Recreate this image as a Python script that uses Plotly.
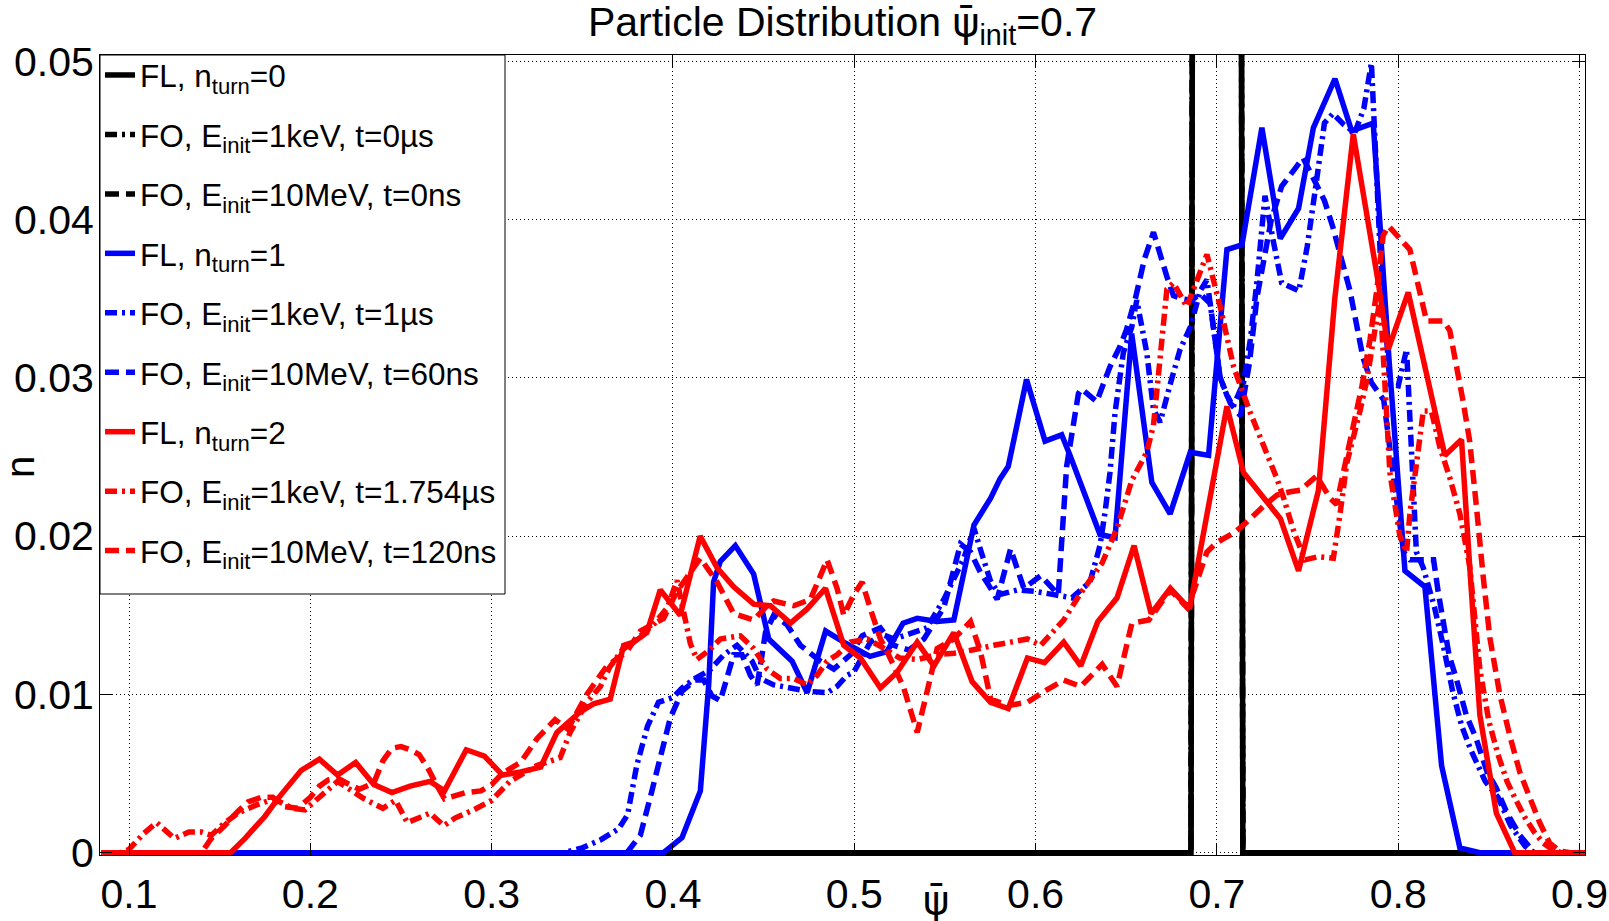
import plotly.graph_objects as go

# ---------------- data ----------------
# FL / FO at t=0 : every particle in the psi=0.7 bin (normalised n=1)
psi_t0 = [0.085, 0.6857, 0.7000, 0.7143, 0.905]
n_t0 = [0, 0, 1.0, 0, 0]

# FL, n_turn = 1  (blue solid)
psi_fl1 = [0.085, 0.3948, 0.405, 0.4151, 0.4197, 0.4224, 0.4261, 0.4344, 0.4445, 0.4482, 0.4528,
           0.4657, 0.474, 0.4842, 0.4942, 0.5087, 0.518, 0.5269, 0.5347, 0.5457, 0.5549, 0.566,
           0.5752, 0.5803, 0.5849, 0.595, 0.6052, 0.6144, 0.619, 0.6355, 0.6438, 0.653, 0.6641,
           0.6742, 0.6853, 0.6954, 0.7055, 0.7138, 0.7248, 0.7349, 0.745, 0.7532, 0.7651, 0.7743,
           0.7862, 0.795, 0.8037, 0.8147, 0.8239, 0.834, 0.845, 0.905]
n_fl1 = [0, 0, 0.00095, 0.0039, 0.0106, 0.0171, 0.0184, 0.0194, 0.0176, 0.0158, 0.0135,
         0.0121, 0.0101, 0.0140, 0.0133, 0.0124, 0.0127, 0.0145, 0.0148, 0.0146, 0.0147, 0.0207,
         0.0224, 0.0236, 0.0244, 0.0299, 0.0260, 0.0264, 0.0251, 0.0201, 0.0199, 0.0328, 0.0234,
         0.0214, 0.0253, 0.0251, 0.0381, 0.0384, 0.0458, 0.0388, 0.0407, 0.0458, 0.0489, 0.0456,
         0.0461, 0.0310, 0.0178, 0.0168, 0.0055, 0.0003, 0, 0]

# FO, E_init = 1 keV, t = 1 us  (blue dash-dot)
psi_fo1k_1 = [0.085, 0.34, 0.35, 0.36, 0.37, 0.375, 0.38, 0.386, 0.392, 0.40, 0.405, 0.412, 0.42,
              0.428, 0.4353, 0.4436, 0.4482, 0.4556, 0.4648, 0.474, 0.485, 0.4905, 0.496, 0.4997,
              0.5089, 0.515, 0.522, 0.53, 0.54, 0.5494, 0.5604, 0.566, 0.57, 0.575, 0.58, 0.59,
              0.60, 0.61, 0.62, 0.63, 0.6355, 0.6383, 0.641, 0.6438, 0.6484, 0.653, 0.6558, 0.6613,
              0.665, 0.6687, 0.674, 0.6797, 0.6853, 0.6908, 0.6945, 0.7018, 0.7055, 0.709, 0.7147,
              0.7184, 0.722, 0.7265, 0.731, 0.7357, 0.7452, 0.7498, 0.7545, 0.7593, 0.764, 0.77,
              0.776, 0.781, 0.7852, 0.79, 0.7954, 0.80, 0.8046, 0.81, 0.8138, 0.82, 0.825, 0.83,
              0.835, 0.84, 0.848, 0.855, 0.862, 0.87, 0.875, 0.905]
n_fo1k_1 = [0, 0, 0.0003, 0.0008, 0.0015, 0.0024, 0.0055, 0.0080, 0.0095, 0.0098, 0.0104, 0.0110,
            0.0115, 0.0125, 0.0131, 0.0121, 0.0110, 0.0106, 0.0104, 0.0102, 0.0101, 0.0105, 0.0112,
            0.0114, 0.0133, 0.0138, 0.0135, 0.0138, 0.0142, 0.0160, 0.0186, 0.0205, 0.0190, 0.0172,
            0.0163, 0.0166, 0.0165, 0.0163, 0.0161, 0.0171, 0.0194, 0.0215, 0.0240, 0.0278, 0.0316,
            0.0332, 0.0349, 0.0316, 0.0280, 0.0272, 0.0295, 0.0318, 0.0332, 0.0355, 0.0362, 0.0300,
            0.0289, 0.0282, 0.0297, 0.0324, 0.0360, 0.0415, 0.0387, 0.0360, 0.0355, 0.0383, 0.0421,
            0.0461, 0.0467, 0.0460, 0.0455, 0.0470, 0.0499, 0.0380, 0.0296, 0.0295, 0.0318, 0.0190,
            0.0180, 0.0155, 0.0130, 0.0102, 0.0080, 0.0065, 0.0045, 0.0035, 0.0017, 0.0004, 0, 0]

# FO, E_init = 10 MeV, t = 60 ns  (blue dashed)
psi_fo10m_60 = [0.085, 0.3746, 0.382, 0.3875, 0.393, 0.3985, 0.405, 0.4123, 0.417, 0.4215, 0.4261,
                0.4335, 0.4381, 0.4427, 0.4464, 0.4482, 0.451, 0.4556, 0.4629, 0.4703, 0.4813,
                0.4887, 0.4979, 0.5043, 0.5144, 0.5218, 0.53, 0.5384, 0.5494, 0.5586, 0.5641,
                0.5696, 0.5752, 0.5788, 0.5862, 0.5935, 0.6028, 0.6125, 0.6171, 0.6236, 0.6254,
                0.6337, 0.641, 0.6466, 0.65, 0.655, 0.66, 0.665, 0.6724, 0.676, 0.6807, 0.686,
                0.6908, 0.6963, 0.7018, 0.7074, 0.713, 0.718, 0.7221, 0.73, 0.7357, 0.7475, 0.7593,
                0.764, 0.7734, 0.7805, 0.7852, 0.792, 0.7954, 0.80, 0.803, 0.8065, 0.815, 0.8195,
                0.822, 0.825, 0.828, 0.832, 0.8375, 0.843, 0.849, 0.854, 0.86, 0.867, 0.875, 0.905]
n_fo10m_60 = [0, 0, 0.0011, 0.0035, 0.0060, 0.0085, 0.0102, 0.0109, 0.0109, 0.0099, 0.0096,
              0.0125, 0.0125, 0.0112, 0.0106, 0.0118, 0.0139, 0.0150, 0.0144, 0.0131, 0.0121,
              0.0116, 0.0125, 0.0137, 0.0142, 0.0131, 0.0128, 0.0135, 0.0155, 0.0195, 0.0190,
              0.0177, 0.0167, 0.0160, 0.0192, 0.0167, 0.0175, 0.0163, 0.0244, 0.0290, 0.0293,
              0.0285, 0.0307, 0.0320, 0.0330, 0.0350, 0.0375, 0.0392, 0.0364, 0.0352, 0.0350, 0.0349,
              0.0353, 0.0347, 0.0300, 0.0284, 0.0276, 0.0310, 0.0351, 0.0400, 0.0421, 0.0439, 0.0412,
              0.0395, 0.0355, 0.0313, 0.0297, 0.0286, 0.0255, 0.0215, 0.0190, 0.0185, 0.0185, 0.0185,
              0.0165, 0.0145, 0.0125, 0.0110, 0.0087, 0.0072, 0.0051, 0.0041, 0.0025, 0.0011, 0, 0]

# FL, n_turn = 2  (red solid)
psi_fl2 = [0.085, 0.156, 0.164, 0.175, 0.182, 0.195, 0.205, 0.215, 0.225, 0.235, 0.245, 0.255,
           0.266, 0.274, 0.286, 0.296, 0.306, 0.316, 0.327, 0.336, 0.3489, 0.3562, 0.3654, 0.3728,
           0.3783, 0.3856, 0.393, 0.404, 0.415, 0.4243, 0.4335, 0.4445, 0.4537, 0.4648, 0.474,
           0.4841, 0.4942, 0.5034, 0.5144, 0.5236, 0.5347, 0.5439, 0.5549, 0.565, 0.5752, 0.5849,
           0.5955, 0.6049, 0.6155, 0.6249, 0.6343, 0.6449, 0.6543, 0.6637, 0.6743, 0.6849, 0.7055,
           0.7147, 0.735, 0.745, 0.756, 0.765, 0.7752, 0.789, 0.7945, 0.8055, 0.8257, 0.8349,
           0.8394, 0.845, 0.8541, 0.8642, 0.905]
n_fl2 = [0, 0, 0.0009, 0.0023, 0.0034, 0.0052, 0.0059, 0.0049, 0.0057, 0.0043, 0.0038, 0.0042,
         0.0045, 0.0039, 0.0065, 0.0061, 0.0049, 0.0051, 0.0054, 0.0076, 0.0089, 0.0094, 0.0097,
         0.0131, 0.0133, 0.0139, 0.0166, 0.0150, 0.0200, 0.0180, 0.0168, 0.0157, 0.0156, 0.0145,
         0.0154, 0.0167, 0.0131, 0.0123, 0.0104, 0.0114, 0.0133, 0.0118, 0.0139, 0.0108, 0.0095,
         0.0091, 0.0123, 0.0120, 0.0133, 0.0118, 0.0146, 0.0161, 0.0194, 0.0151, 0.0167, 0.0154,
         0.0282, 0.0240, 0.0211, 0.0178, 0.0229, 0.0350, 0.0454, 0.0360, 0.0318, 0.0354, 0.0251,
         0.0261, 0.0181, 0.0087, 0.0025, 0, 0]

# FO, E_init = 1 keV, t = 1.754 us  (red dash-dot)
psi_fo1k_2 = [0.085, 0.095, 0.10, 0.108, 0.1152, 0.125, 0.133, 0.14, 0.1454, 0.152, 0.16, 0.17,
              0.18, 0.19, 0.197, 0.205, 0.215, 0.2297, 0.24, 0.247, 0.2535, 0.26, 0.266, 0.2736,
              0.28, 0.29, 0.30, 0.31, 0.3249, 0.3378, 0.3433, 0.3525, 0.36, 0.365, 0.372, 0.38,
              0.39, 0.397, 0.4022, 0.4096, 0.4132, 0.42, 0.4261, 0.4372, 0.4445, 0.4519, 0.4592,
              0.4666, 0.474, 0.4795, 0.485, 0.4905, 0.4979, 0.5071, 0.515, 0.525, 0.535, 0.545,
              0.555, 0.565, 0.577, 0.5862, 0.5954, 0.6028, 0.6155, 0.6249, 0.6367, 0.6449, 0.653,
              0.6613, 0.665, 0.6724, 0.676, 0.6834, 0.6945, 0.7018, 0.7055, 0.7092, 0.713, 0.7184,
              0.7258, 0.7332, 0.7368, 0.7424, 0.7486, 0.756, 0.7642, 0.7679, 0.7716, 0.7789, 0.7826,
              0.7881, 0.79, 0.7954, 0.8009, 0.8046, 0.8064, 0.8101, 0.8138, 0.8183, 0.823, 0.8284,
              0.834, 0.8394, 0.845, 0.85, 0.855, 0.86, 0.865, 0.87, 0.875, 0.88, 0.885, 0.89, 0.905]
n_fo1k_2 = [0, 0, 0.0002, 0.0012, 0.0019, 0.0009, 0.0013, 0.0013, 0.0011, 0.0018, 0.0025, 0.0030,
            0.0034, 0.0028, 0.0027, 0.0035, 0.0045, 0.0034, 0.0028, 0.0033, 0.0019, 0.0022, 0.0025,
            0.0017, 0.0022, 0.0027, 0.0033, 0.0045, 0.0055, 0.0060, 0.0076, 0.0095, 0.0105, 0.0117,
            0.0128, 0.0135, 0.0145, 0.0155, 0.0172, 0.0132, 0.0122, 0.0128, 0.0135, 0.0137, 0.0129,
            0.0116, 0.0110, 0.0110, 0.0106, 0.0112, 0.0121, 0.0125, 0.0133, 0.0135, 0.0130, 0.0123,
            0.0122, 0.0125, 0.0126, 0.0128, 0.0131, 0.0133, 0.0135, 0.0131, 0.0147, 0.0164, 0.0183,
            0.0205, 0.0235, 0.0253, 0.0270, 0.0356, 0.0360, 0.0345, 0.0378, 0.0345, 0.0326, 0.0307,
            0.0295, 0.0278, 0.0257, 0.0236, 0.0224, 0.0203, 0.0185, 0.0187, 0.0186, 0.0214, 0.0246,
            0.0279, 0.0298, 0.0337, 0.0350, 0.0240, 0.0200, 0.0190, 0.0214, 0.0246, 0.0279, 0.0279,
            0.0256, 0.0237, 0.0214, 0.0181, 0.0116, 0.0083, 0.0062, 0.0045, 0.0033, 0.0022, 0.0013,
            0.0006, 0.0002, 0, 0]

# FO, E_init = 10 MeV, t = 120 ns  (red dashed)
psi_fo10m_120 = [0.085, 0.14, 0.1454, 0.1527, 0.16, 0.1656, 0.1729, 0.1793, 0.1857, 0.193, 0.20,
                 0.205, 0.21, 0.215, 0.22, 0.227, 0.235, 0.24, 0.245, 0.25, 0.255, 0.26, 0.265,
                 0.27, 0.274, 0.28, 0.286, 0.294, 0.30, 0.305, 0.31, 0.316, 0.325, 0.335, 0.342,
                 0.3525, 0.3636, 0.3746, 0.382, 0.3948, 0.4022, 0.4151, 0.4243, 0.4335, 0.4445,
                 0.4519, 0.4556, 0.4666, 0.4758, 0.485, 0.4905, 0.4942, 0.4997, 0.5043, 0.5089,
                 0.5144, 0.5181, 0.5218, 0.5273, 0.5347, 0.5402, 0.5457, 0.5549, 0.5641, 0.5696,
                 0.5752, 0.5849, 0.5955, 0.6049, 0.6155, 0.6249, 0.6367, 0.6449, 0.6531, 0.6625,
                 0.6743, 0.6834, 0.6871, 0.6945, 0.70, 0.7092, 0.7147, 0.7258, 0.7332, 0.7405,
                 0.746, 0.755, 0.7624, 0.766, 0.7734, 0.78, 0.7844, 0.788, 0.7917, 0.7946, 0.8064,
                 0.8156, 0.8248, 0.8284, 0.8358, 0.8394, 0.843, 0.8468, 0.8505, 0.856, 0.8615,
                 0.867, 0.8725, 0.878, 0.8835, 0.889, 0.895, 0.905]
n_fo10m_120 = [0, 0, 0.0009, 0.0017, 0.0026, 0.0032, 0.0035, 0.0035, 0.0029, 0.0028, 0.0035,
               0.0042, 0.0046, 0.0047, 0.0044, 0.0040, 0.0044, 0.0058, 0.0066, 0.0067, 0.0065,
               0.0062, 0.0053, 0.0042, 0.0034, 0.0036, 0.0038, 0.0039, 0.0043, 0.0049, 0.0053,
               0.0057, 0.0072, 0.0084, 0.0078, 0.0100, 0.0118, 0.0127, 0.0140, 0.0148, 0.0165,
               0.0186, 0.0171, 0.0151, 0.0147, 0.0156, 0.0159, 0.0156, 0.0160, 0.0185, 0.0167,
               0.0150, 0.0163, 0.0171, 0.0154, 0.0135, 0.0127, 0.0118, 0.0104, 0.0076, 0.0102,
               0.0129, 0.0135, 0.0146, 0.0127, 0.0097, 0.0093, 0.0095, 0.0102, 0.0109, 0.0105,
               0.0119, 0.0105, 0.0145, 0.0147, 0.0166, 0.0155, 0.0165, 0.0190, 0.0196, 0.0202,
               0.0207, 0.0219, 0.0226, 0.0228, 0.0229, 0.0238, 0.0224, 0.0220, 0.0260, 0.0295,
               0.0324, 0.0354, 0.0390, 0.0396, 0.0381, 0.0336, 0.0336, 0.0330, 0.0285, 0.0260,
               0.0220, 0.0175, 0.0136, 0.0100, 0.0074, 0.0051, 0.0035, 0.0019, 0.0006, 0.0001, 0, 0]

x_ticks = [0.1, 0.2, 0.3, 0.4, 0.5, 0.6, 0.7, 0.8, 0.9]
x_ticklabels = ["0.1", "0.2", "0.3", "0.4", "0.5", "0.6", "0.7", "0.8", "0.9"]
y_ticks = [0, 0.01, 0.02, 0.03, 0.04, 0.05]
y_ticklabels = ["0", "0.01", "0.02", "0.03", "0.04", "0.05"]

series = [
    ("FL, n<sub>turn</sub>=0", psi_t0, n_t0, "black", "solid"),
    ("FO, E<sub>init</sub>=1keV, t=0µs", psi_t0, n_t0, "black", "dashdot"),
    ("FO, E<sub>init</sub>=10MeV, t=0ns", psi_t0, n_t0, "black", "dash"),
    ("FL, n<sub>turn</sub>=1", psi_fl1, n_fl1, "#0000ff", "solid"),
    ("FO, E<sub>init</sub>=1keV, t=1µs", psi_fo1k_1, n_fo1k_1, "#0000ff", "dashdot"),
    ("FO, E<sub>init</sub>=10MeV, t=60ns", psi_fo10m_60, n_fo10m_60, "#0000ff", "dash"),
    ("FL, n<sub>turn</sub>=2", psi_fl2, n_fl2, "#ff0000", "solid"),
    ("FO, E<sub>init</sub>=1keV, t=1.754µs", psi_fo1k_2, n_fo1k_2, "#ff0000", "dashdot"),
    ("FO, E<sub>init</sub>=10MeV, t=120ns", psi_fo10m_120, n_fo10m_120, "#ff0000", "dash"),
]

DASH = {"solid": "solid", "dash": "14px,7px", "dashdot": "12px,5px,3px,5px"}
FONT = "Liberation Sans, Arial, Helvetica, sans-serif"
PSIBAR = '<span style="font-family:DejaVu Sans">ψ̄</span>'

fig = go.Figure()
for i, (name, xs, ys, col, style) in enumerate(series):
    fig.add_trace(go.Scatter(
        x=xs, y=ys, mode="lines", name=name, legendgroup=f"g{i}",
        line=dict(color=col, width=5.5, dash=DASH[style], simplify=False),
        hoverinfo="skip",
    ))

axis_common = dict(
    showline=True, linecolor="black", linewidth=1, mirror="ticks",
    ticks="inside", ticklen=12, tickwidth=1, tickcolor="black",
    showgrid=True, gridcolor="black", gridwidth=1, griddash="1px,3px",
    zeroline=False, automargin=False,
    tickfont=dict(family=FONT, size=41, color="black"),
)

fig.update_xaxes(range=[0.084, 0.903], tickvals=x_ticks, ticktext=x_ticklabels,
                 ticklabelstandoff=3, **axis_common)
fig.update_yaxes(range=[-0.00015, 0.0504], tickvals=y_ticks, ticktext=y_ticklabels,
                 ticklabelstandoff=-3, **axis_common)

# legend frame (white box with black border, covering the grid like the original)
PLOT_H = 921 - 55 - 66
PLOT_W = 1609 - 100 - 24
box_right = (505 - 100) / PLOT_W
box_bottom = (855 - 594) / PLOT_H

fig.update_layout(
    width=1609, height=921,
    margin=dict(l=100, r=24, t=55, b=66),
    paper_bgcolor="white", plot_bgcolor="white",
    font=dict(family=FONT, color="black"),
    title=dict(text="Particle Distribution " + PSIBAR + "<sub>init</sub>=0.7",
               x=0.5, xref="paper", xanchor="center",
               y=0.992, yref="container", yanchor="top",
               font=dict(family=FONT, size=41, color="black"), pad=dict(t=0)),
    legend=dict(x=0, y=1 + 7 / PLOT_H, xanchor="left", yanchor="top",
                bgcolor="rgba(0,0,0,0)", borderwidth=0, maxheight=880,
                font=dict(family=FONT, size=31.5, color="black"),
                traceorder="grouped", tracegroupgap=15.5, itemwidth=30),
    showlegend=True,
    shapes=[
        dict(type="rect", xref="paper", yref="paper", x0=0, x1=box_right,
             y0=box_bottom, y1=1, fillcolor="white",
             line=dict(color="black", width=1), layer="above"),
    ],
    annotations=[
        dict(text=PSIBAR, xref="x", yref="paper", x=0.545, y=0, yshift=-45,
             xanchor="center", yanchor="middle", showarrow=False,
             font=dict(family=FONT, size=40, color="black")),
        dict(text="n", xref="paper", yref="paper", x=0, xshift=-80, y=0.485,
             xanchor="center", yanchor="middle", textangle=-90, showarrow=False,
             font=dict(family=FONT, size=40, color="black")),
    ],
)

fig.write_html("out.html")
